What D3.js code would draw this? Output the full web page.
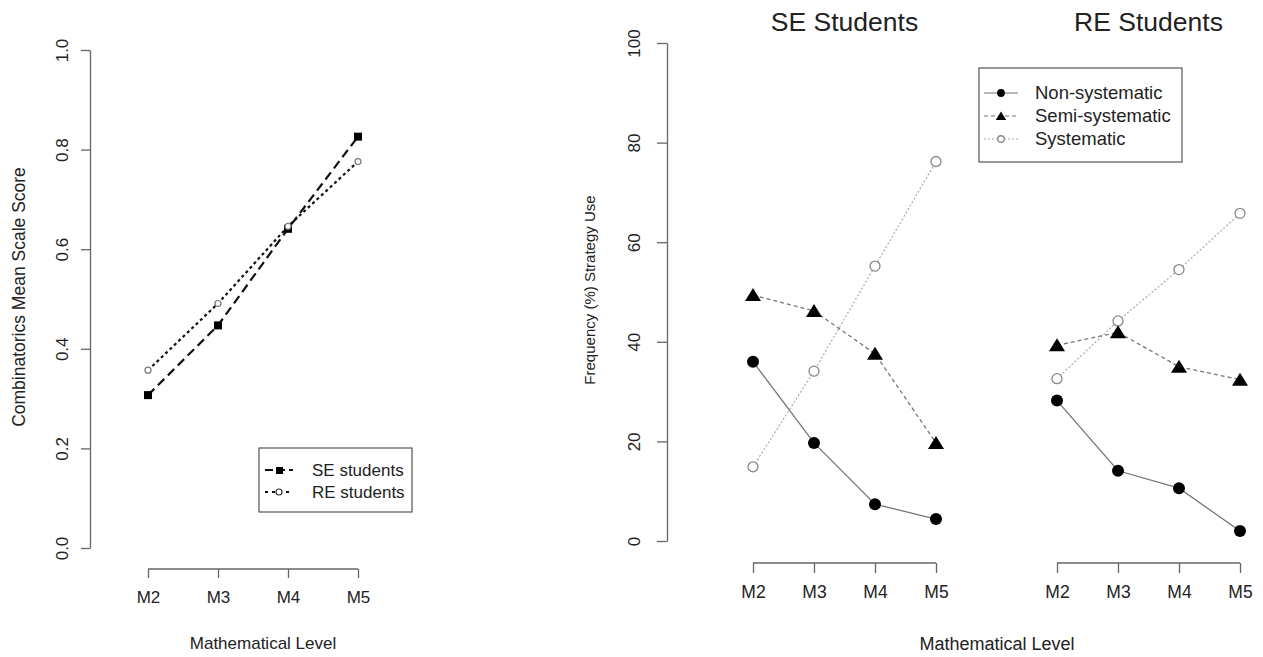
<!DOCTYPE html>
<html>
<head>
<meta charset="utf-8">
<script src="https://cdn.jsdelivr.net/npm/d3@7"></script>
<style>
  body { margin: 0; background: #fff; }
  svg text { font-family: "Liberation Sans", Arial, sans-serif; fill: #222; }
  .axis path, .axis line { stroke: #666; stroke-width: 1.3; }
</style>
</head>
<body>
<svg id="chart" width="1263" height="657"></svg>
<script>
// levels on the x axis
var levels = ["M2", "M3", "M4", "M5"];

// left panel: combinatorics mean scale score
var seScore = [0.307, 0.447, 0.641, 0.826];
var reScore = [0.357, 0.491, 0.646, 0.776];
var scoreTicks = [0, 0.2, 0.4, 0.6, 0.8, 1.0];

// right panel: frequency (%) of strategy use
var seNon = [36.0, 19.7, 7.4, 4.4];
var seSemi = [49.4, 46.2, 37.6, 19.7];
var seSys = [14.9, 34.1, 55.2, 76.2];
var reNon = [28.2, 14.1, 10.6, 2.0];
var reSemi = [39.3, 41.9, 35.0, 32.4];
var reSys = [32.6, 44.2, 54.5, 65.8];
var freqTicks = [0, 20, 40, 60, 80, 100];

var svg = d3.select("#chart");

// ---------- left panel ----------
var x1 = d3.scalePoint().domain(levels).range([148, 358]);
var y1 = d3.scaleLinear().domain([0, 1]).range([548, 50]);

var yAx1 = svg.append("g").attr("class", "axis")
  .attr("transform", "translate(90,0)")
  .call(d3.axisLeft(y1).tickValues(scoreTicks).tickFormat(d3.format(".1f")).tickSize(9).tickSizeOuter(0));
rotateLabels(yAx1, 22, "17px");

var xAx1 = svg.append("g").attr("class", "axis")
  .attr("transform", "translate(0,569)")
  .call(d3.axisBottom(x1).tickSize(9).tickSizeOuter(0));
xAx1.selectAll("text").attr("y", 22).style("font-size", "17px");
xAx1.select(".domain").attr("d", "M" + x1("M2") + ",0H" + x1("M5"));

svg.append("text").attr("x", 263).attr("y", 649).attr("text-anchor", "middle")
  .style("font-size", "17px").text("Mathematical Level");
svg.append("text").attr("transform", "translate(25,297) rotate(-90)").attr("text-anchor", "middle")
  .style("font-size", "17.5px").text("Combinatorics Mean Scale Score");

var line1 = d3.line().x(function(d, i) { return x1(levels[i]); }).y(function(d) { return y1(d); });

svg.append("path").datum(seScore).attr("d", line1)
  .attr("fill", "none").attr("stroke", "#111").attr("stroke-width", 2.2).attr("stroke-dasharray", "9,5");
svg.append("path").datum(reScore).attr("d", line1)
  .attr("fill", "none").attr("stroke", "#111").attr("stroke-width", 2.2).attr("stroke-dasharray", "3,3");

svg.selectAll(".seSq").data(seScore).enter().append("rect")
  .attr("x", function(d, i) { return x1(levels[i]) - 4; })
  .attr("y", function(d) { return y1(d) - 4; })
  .attr("width", 8).attr("height", 8).attr("fill", "#000");
svg.selectAll(".reCirc").data(reScore).enter().append("circle")
  .attr("cx", function(d, i) { return x1(levels[i]); })
  .attr("cy", function(d) { return y1(d); })
  .attr("r", 3).attr("fill", "#fff").attr("stroke", "#777").attr("stroke-width", 1.2);

// left legend
svg.append("rect").attr("x", 259).attr("y", 448).attr("width", 153).attr("height", 64)
  .attr("fill", "none").attr("stroke", "#555").attr("stroke-width", 1.2);
svg.append("line").attr("x1", 265).attr("x2", 293).attr("y1", 470).attr("y2", 470)
  .attr("stroke", "#111").attr("stroke-width", 2.2).attr("stroke-dasharray", "8,4");
svg.append("rect").attr("x", 276).attr("y", 467).attr("width", 7).attr("height", 7).attr("fill", "#000");
svg.append("line").attr("x1", 265).attr("x2", 293).attr("y1", 492).attr("y2", 492)
  .attr("stroke", "#111").attr("stroke-width", 2.2).attr("stroke-dasharray", "3,4");
svg.append("circle").attr("cx", 279).attr("cy", 492).attr("r", 3)
  .attr("fill", "#fff").attr("stroke", "#333").attr("stroke-width", 1.2);
svg.append("text").attr("x", 312).attr("y", 476).style("font-size", "17px").text("SE students");
svg.append("text").attr("x", 312).attr("y", 498).style("font-size", "17px").text("RE students");

// ---------- right panels ----------
var y2 = d3.scaleLinear().domain([0, 100]).range([541, 43]);
var yAx2 = svg.append("g").attr("class", "axis")
  .attr("transform", "translate(667,0)")
  .call(d3.axisLeft(y2).tickValues(freqTicks).tickSize(10).tickSizeOuter(0));
rotateLabels(yAx2, 27, "17px");

svg.append("text").attr("transform", "translate(595,290) rotate(-90)").attr("text-anchor", "middle")
  .style("font-size", "15px").text("Frequency (%) Strategy Use");
svg.append("text").attr("x", 997).attr("y", 650).attr("text-anchor", "middle")
  .style("font-size", "18px").text("Mathematical Level");

drawGroup("SE Students", [753, 936], seNon, seSemi, seSys);
drawGroup("RE Students", [1057, 1240], reNon, reSemi, reSys);

// right legend
var legRows = [
  { name: "Non-systematic", dash: null, color: "#777", shape: "dot" },
  { name: "Semi-systematic", dash: "4,3", color: "#777", shape: "tri" },
  { name: "Systematic", dash: "2,2", color: "#aaa", shape: "open" }
];
svg.append("rect").attr("x", 979).attr("y", 68).attr("width", 203).attr("height", 94)
  .attr("fill", "none").attr("stroke", "#555").attr("stroke-width", 1.2);
legRows.forEach(function(r, i) {
  var yy = 93 + i * 23;
  svg.append("line").attr("x1", 984).attr("x2", 1018).attr("y1", yy).attr("y2", yy)
    .attr("stroke", r.color).attr("stroke-width", 1.2).attr("stroke-dasharray", r.dash);
  drawMarker(svg, r.shape, 1001, yy, 0.65);
  svg.append("text").attr("x", 1035).attr("y", yy + 6).style("font-size", "18.5px").text(r.name);
});

function drawGroup(title, range, non, semi, sys) {
  var x = d3.scalePoint().domain(levels).range(range);
  var ax = svg.append("g").attr("class", "axis")
    .attr("transform", "translate(0,563)")
    .call(d3.axisBottom(x).tickSize(10).tickSizeOuter(0));
  ax.selectAll("text").attr("y", 23).style("font-size", "17.5px");
  ax.select(".domain").attr("d", "M" + range[0] + ",0H" + range[1]);

  svg.append("text").attr("x", (range[0] + range[1]) / 2).attr("y", 31).attr("text-anchor", "middle")
    .style("font-size", "26.5px").text(title);

  var line = d3.line().x(function(d, i) { return x(levels[i]); }).y(function(d) { return y2(d); });
  svg.append("path").datum(sys).attr("d", line).attr("fill", "none")
    .attr("stroke", "#aaa").attr("stroke-width", 1.2).attr("stroke-dasharray", "2,2");
  svg.append("path").datum(semi).attr("d", line).attr("fill", "none")
    .attr("stroke", "#777").attr("stroke-width", 1.3).attr("stroke-dasharray", "4,3");
  svg.append("path").datum(non).attr("d", line).attr("fill", "none")
    .attr("stroke", "#777").attr("stroke-width", 1.3);

  sys.forEach(function(d, i) { drawMarker(svg, "open", x(levels[i]), y2(d), 1); });
  semi.forEach(function(d, i) { drawMarker(svg, "tri", x(levels[i]), y2(d), 1); });
  non.forEach(function(d, i) { drawMarker(svg, "dot", x(levels[i]), y2(d), 1); });
}

function drawMarker(g, shape, cx, cy, k) {
  if (shape == "dot") {
    g.append("circle").attr("cx", cx).attr("cy", cy).attr("r", 6 * k).attr("fill", "#000");
  } else if (shape == "tri") {
    g.append("path").attr("transform", "translate(" + cx + "," + cy + ") scale(" + k + ")")
      .attr("d", "M0,-7L8,6L-8,6Z").attr("fill", "#000");
  } else {
    g.append("circle").attr("cx", cx).attr("cy", cy).attr("r", 5 * k)
      .attr("fill", "#fff").attr("stroke", "#888").attr("stroke-width", 1.3);
  }
}

function rotateLabels(ax, off, size) {
  ax.selectAll(".tick text")
    .attr("transform", "rotate(-90)")
    .attr("x", 0).attr("y", -off).attr("dy", 0)
    .attr("text-anchor", "middle")
    .style("font-size", size);
}
</script>
</body>
</html>
